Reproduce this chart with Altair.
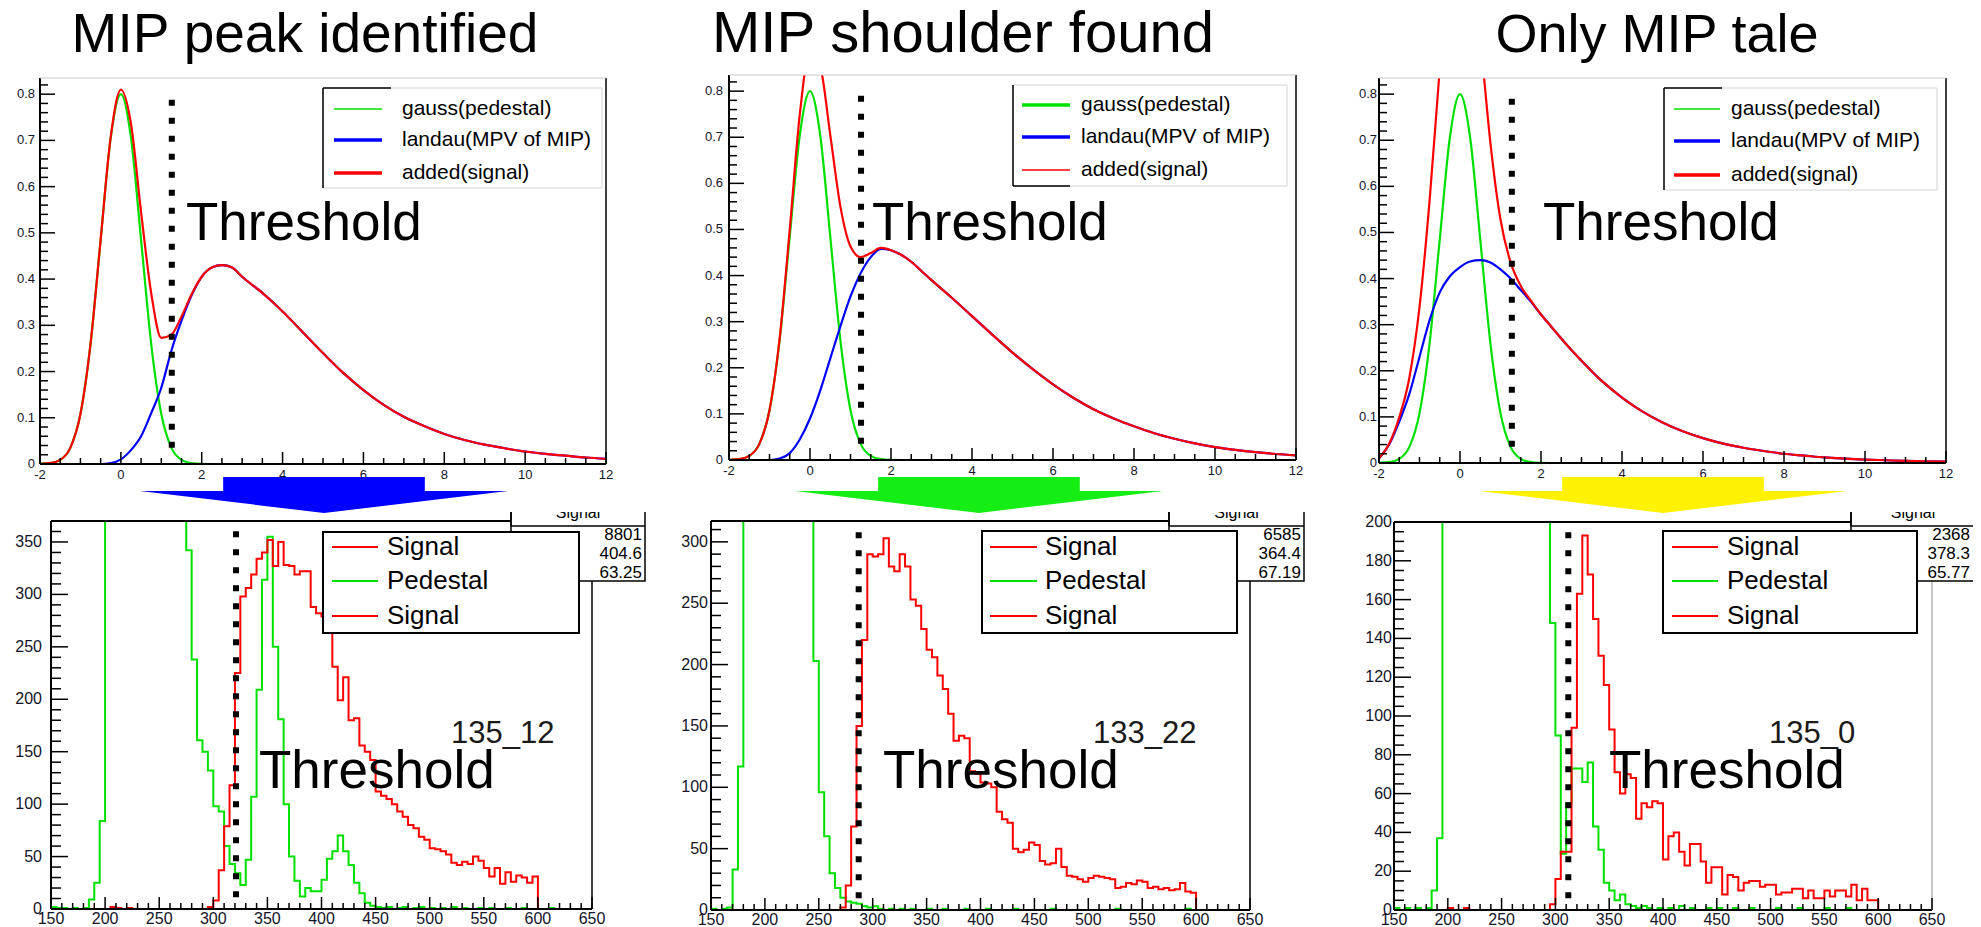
import altair as alt
import pandas as pd

# ------------------------------------------------------------------ values
TITLES = ["MIP peak identified", "MIP shoulder found", "Only MIP tale"]
FUNC_NAMES = ["gauss(pedestal)", "landau(MPV of MIP)", "added(signal)"]
HIST_NAMES = ["Signal", "Pedestal", "Signal"]
RUN_IDS = ["135_12", "133_22", "135_0"]
STAT_TITLE = "Signal"
STAT_VALUES = [["8801", "404.6", "63.25"],
               ["6585", "364.4", "67.19"],
               ["2368", "378.3", "65.77"]]
THRESHOLD_TEXT = "Threshold"
THR_TOP = [1.26, 1.26, 1.28]
THR_BOTTOM = [321, 287, 312]

# top row: fitted functions
FX = [-2, -1.75, -1.5, -1.25, -1, -0.75, -0.5, -0.25,
      0, 0.25, 0.5, 0.75, 1, 1.25, 1.5, 1.75,
      2, 2.25, 2.5, 2.75, 3, 3.5, 4, 4.5, 5, 5.5, 6, 6.5,
      7, 7.5, 8, 8.5, 9, 9.5, 10, 10.5, 11, 11.5, 12]
GAUSS = [0.0003, 0.0017, 0.0089, 0.035, 0.108, 0.26, 0.485, 0.706,
         0.8, 0.706, 0.485, 0.26, 0.108, 0.035, 0.0089, 0.0017,
         0.0003, 0, 0, 0, 0, 0, 0, 0, 0, 0, 0, 0,
         0, 0, 0, 0, 0, 0, 0, 0, 0, 0, 0]
LANDAU_A = [0, 0, 0, 0, 0, 0, 0, 0.002,
            0.01, 0.03, 0.06, 0.11, 0.165, 0.245, 0.31, 0.365,
            0.405, 0.425, 0.43, 0.425, 0.405, 0.37, 0.33, 0.285, 0.24, 0.197, 0.16, 0.128,
            0.102, 0.082, 0.065, 0.052, 0.042, 0.034, 0.027, 0.022, 0.018, 0.014, 0.011]
ADDED_A = [0.0003, 0.0017, 0.0089, 0.035, 0.108, 0.26, 0.485, 0.708,
           0.81, 0.736, 0.545, 0.37, 0.273, 0.28, 0.319, 0.367,
           0.405, 0.425, 0.43, 0.425, 0.405, 0.37, 0.33, 0.285, 0.24, 0.197, 0.16, 0.128,
           0.102, 0.082, 0.065, 0.052, 0.042, 0.034, 0.027, 0.022, 0.018, 0.014, 0.011]
LANDAU_B = [0, 0, 0, 0, 0, 0.003, 0.015, 0.045,
            0.09, 0.15, 0.22, 0.29, 0.355, 0.405, 0.44, 0.458,
            0.455, 0.445, 0.43, 0.41, 0.39, 0.352, 0.312, 0.272, 0.233, 0.197, 0.164, 0.135,
            0.11, 0.09, 0.073, 0.058, 0.046, 0.036, 0.028, 0.022, 0.017, 0.013, 0.01]
ADDED_B = [0.0003, 0.0017, 0.0089, 0.035, 0.108, 0.263, 0.5, 0.751,
           0.89, 0.856, 0.705, 0.55, 0.463, 0.44, 0.449, 0.46,
           0.455, 0.445, 0.43, 0.41, 0.39, 0.352, 0.312, 0.272, 0.233, 0.197, 0.164, 0.135,
           0.11, 0.09, 0.073, 0.058, 0.046, 0.036, 0.028, 0.022, 0.017, 0.013, 0.01]
LANDAU_C = [0.01, 0.04, 0.09, 0.15, 0.23, 0.31, 0.37, 0.405,
            0.425, 0.437, 0.44, 0.435, 0.42, 0.4, 0.375, 0.35,
            0.322, 0.296, 0.27, 0.245, 0.222, 0.178, 0.142, 0.112, 0.088, 0.069, 0.054, 0.042,
            0.033, 0.026, 0.02, 0.016, 0.012, 0.0095, 0.0075, 0.006, 0.0045, 0.0035, 0.003]
ADDED_C = [0.0103, 0.0417, 0.099, 0.185, 0.338, 0.57, 0.855, 1.111,
           1.225, 1.143, 0.925, 0.695, 0.528, 0.435, 0.384, 0.352,
           0.322, 0.296, 0.27, 0.245, 0.222, 0.178, 0.142, 0.112, 0.088, 0.069, 0.054, 0.042,
           0.033, 0.026, 0.02, 0.016, 0.012, 0.0095, 0.0075, 0.006, 0.0045, 0.0035, 0.003]

# bottom row: histograms, 5-wide bins from 150 to 650
EDGES = list(range(150, 655, 5))
SIG_A = [0, 0, 0, 0, 0, 0, 0, 0, 0, 0,
         0, 2, 1, 0, 1, 0, 0, 0, 0, 0,
         0, 0, 0, 0, 0, 0, 0, 0, 0, 2,
         8, 37, 79, 118, 225, 298, 306, 319, 334, 340,
         352, 327, 350, 328, 327, 319, 322, 322, 288, 282,
         279, 279, 231, 199, 221, 180, 182, 156, 150, 142,
         112, 108, 105, 100, 93, 88, 80, 77, 69, 66,
         58, 57, 55, 52, 44, 42, 45, 43, 50, 46,
         39, 31, 39, 24, 35, 26, 32, 30, 25, 31,
         0, 0, 0, 0, 0, 0, 0, 0, 0, 0]
PED_A = [2, 1, 1, 0, 1, 0, 1, 9, 25, 84,
         900, 1500, 2400, 3000, 3300, 3200, 2900, 2500, 2100, 1700,
         1400, 1100, 850, 650, 480, 342, 238, 161, 150, 132,
         98, 93, 60, 43, 34, 23, 47, 107, 209, 314,
         355, 250, 181, 100, 50, 27, 12, 20, 17, 17,
         28, 48, 55, 70, 55, 42, 25, 15, 6, 3,
         2, 1, 2, 0, 1, 2, 0, 1, 2, 0,
         1, 0, 1, 0, 2, 0, 1, 0, 0, 1,
         0, 1, 0, 0, 1, 0, 0, 1, 0, 0,
         0, 0, 1, 0, 0, 0, 0, 0, 0, 0]
SIG_B = [0, 0, 0, 0, 0, 0, 0, 0, 0, 0,
         0, 0, 0, 0, 0, 0, 0, 0, 0, 0,
         0, 0, 0, 0, 2, 20, 68, 150, 220, 290,
         288, 290, 303, 280, 276, 290, 280, 253, 248, 229,
         212, 206, 191, 180, 160, 138, 142, 140, 113, 111,
         104, 103, 100, 80, 74, 71, 50, 47, 49, 55,
         53, 40, 37, 38, 50, 35, 28, 27, 25, 23,
         26, 28, 27, 26, 25, 18, 19, 22, 21, 24,
         23, 18, 19, 17, 18, 16, 17, 22, 15, 14,
         0, 0, 0, 0, 0, 0, 0, 0, 0, 0]
PED_B = [1, 0, 1, 2, 33, 117, 800, 1600, 2600, 3200,
         3400, 3200, 2800, 2300, 1800, 1300, 900, 600, 380, 203,
         96, 60, 30, 18, 10, 7, 6, 5, 3, 2,
         3, 1, 0, 1, 0, 1, 0, 1, 0, 0,
         1, 0, 0, 1, 0, 0, 0, 1, 0, 0,
         0, 1, 0, 0, 0, 0, 1, 0, 0, 0,
         0, 0, 0, 1, 0, 0, 0, 0, 0, 0,
         0, 0, 0, 0, 0, 1, 0, 0, 0, 0,
         0, 0, 0, 0, 0, 0, 0, 0, 1, 0,
         0, 0, 0, 0, 0, 0, 0, 0, 0, 0]
SIG_C = [0, 0, 0, 0, 0, 0, 0, 0, 0, 0,
         1, 0, 0, 1, 0, 0, 0, 0, 0, 0,
         0, 0, 0, 0, 0, 0, 0, 0, 0, 3,
         16, 30, 30, 94, 163, 193, 173, 150, 131, 116,
         93, 71, 60, 70, 68, 47, 55, 53, 56, 55,
         26, 38, 40, 30, 23, 34, 34, 25, 14, 22,
         22, 8, 18, 17, 10, 14, 15, 15, 12, 13,
         13, 8, 9, 9, 11, 11, 6, 10, 6, 6,
         10, 7, 10, 10, 7, 13, 5, 11, 5, 5,
         0, 0, 0, 0, 0, 0, 0, 0, 0, 0]
PED_C = [1, 0, 1, 0, 1, 0, 1, 10, 37, 600,
         1400, 2200, 2800, 3000, 2900, 2600, 2200, 1800, 1400, 1100,
         850, 650, 500, 400, 330, 280, 250, 230, 215, 148,
         90, 29, 55, 73, 73, 66, 76, 43, 31, 14,
         10, 5, 8, 3, 2, 1, 2, 1, 0, 1,
         0, 1, 0, 2, 0, 1, 0, 0, 1, 0,
         1, 0, 0, 1, 0, 0, 1, 0, 0, 0,
         0, 1, 0, 0, 0, 1, 0, 0, 0, 0,
         1, 0, 0, 0, 1, 0, 0, 0, 0, 0,
         0, 0, 0, 0, 0, 0, 0, 0, 0, 0]

# axis ticks and labels
TOP_XTICKS = [-2, 0, 2, 4, 6, 8, 10, 12]
TOP_XLABELS = ["-2", "0", "2", "4", "6", "8", "10", "12"]
TOP_YTICKS = [0, 0.1, 0.2, 0.3, 0.4, 0.5, 0.6, 0.7, 0.8]
TOP_YLABELS = ["0", "0.1", "0.2", "0.3", "0.4", "0.5", "0.6", "0.7", "0.8"]
BOT_XTICKS = [150, 200, 250, 300, 350, 400, 450, 500, 550, 600, 650]
BOT_XLABELS = ["150", "200", "250", "300", "350", "400", "450", "500", "550", "600", "650"]
BOT_YTICKS_A = [0, 50, 100, 150, 200, 250, 300, 350]
BOT_YTICKS_B = [0, 50, 100, 150, 200, 250, 300]
BOT_YTICKS_C = [0, 20, 40, 60, 80, 100, 120, 140, 160, 180, 200]

for arr in (GAUSS, LANDAU_A, ADDED_A, LANDAU_B, ADDED_B, LANDAU_C, ADDED_C):
    assert len(arr) == len(FX), len(arr)
for arr in (SIG_A, PED_A, SIG_B, PED_B, SIG_C, PED_C):
    assert len(arr) == len(EDGES) - 1, len(arr)

# ------------------------------------------------------------------ styling / layout
FONT = "Liberation Sans, Arial, Helvetica, sans-serif"
NARROW = "Liberation Sans Narrow, Liberation Sans, Arial, sans-serif"
LABC = "#14142a"
RED, GREEN, BLUE = "#ff0000", "#00e000", "#0000ff"
ARROW_COLORS = ["#0000ff", "#14ee14", "#fff200"]
ARROW_PATH = ("M -1 -0.022 L -0.548 -0.022 L -0.548 -0.098 L 0.548 -0.098 "
              "L 0.548 -0.022 L 1 -0.022 L 0 0.098 Z")
TITLE_SIZES = [55, 58, 54]
M = 8


def P(v):
    return v - M


def vline(x, ya, yb, color="black", w=2.0):
    return alt.Chart().mark_rule(color=color, strokeWidth=w, strokeCap="butt").encode(
        x=alt.value(P(x)), y=alt.value(P(ya)), y2=alt.value(P(yb)))


def hline(y, xa, xb, color="black", w=2.0):
    return alt.Chart().mark_rule(color=color, strokeWidth=w, strokeCap="butt").encode(
        x=alt.value(P(xa)), x2=alt.value(P(xb)), y=alt.value(P(y)))


def box(xa, xb, ya, yb, fill="white", stroke=None, w=0):
    props = dict(fill=fill, strokeWidth=w)
    if stroke is not None:
        props["stroke"] = stroke
    return alt.Chart().mark_rect(**props).encode(
        x=alt.value(P(xa)), x2=alt.value(P(xb)), y=alt.value(P(ya)), y2=alt.value(P(yb)))


def label(x, y, s, size, align="left", baseline="middle", font=FONT, color="black"):
    return alt.Chart().mark_text(text=s, align=align, baseline=baseline, font=font,
                                 fontSize=size, color=color).encode(
        x=alt.value(P(x)), y=alt.value(P(y)))


def xticks(vals, sx, y0, length, w=1.5):
    return alt.Chart(pd.DataFrame({"v": vals})).mark_rule(color="black", strokeWidth=w).encode(
        x=alt.X("v:Q", scale=sx, axis=None), y=alt.value(P(y0)), y2=alt.value(P(y0 - length)))


def yticks(vals, sy, x0, length, w=1.5):
    return alt.Chart(pd.DataFrame({"v": vals})).mark_rule(color="black", strokeWidth=w).encode(
        y=alt.Y("v:Q", scale=sy, axis=None), x=alt.value(P(x0)), x2=alt.value(P(x0 + length)))


def xlabels(vals, labs, sx, y, size, font):
    return alt.Chart(pd.DataFrame({"v": vals, "t": labs})).mark_text(
        align="center", baseline="middle", fontSize=size, font=font, color=LABC).encode(
        x=alt.X("v:Q", scale=sx, axis=None), y=alt.value(P(y)), text="t:N")


def ylabels(vals, labs, sy, x, size, font):
    return alt.Chart(pd.DataFrame({"v": vals, "t": labs})).mark_text(
        align="right", baseline="middle", fontSize=size, font=font, color=LABC).encode(
        y=alt.Y("v:Q", scale=sy, axis=None), x=alt.value(P(x)), text="t:N")


TOP = [
    dict(x0=40, x1=606, y0=464, y1=78, ydx=5, leg=(323, 602, 88, 188), samp=(334, 382), tx=402,
         rows=(109, 140, 173), thr=(186, 240), w=(1.5, 3.5, 3.5), dark=("top", 323, 391)),
    dict(x0=729, x1=1296, y0=460, y1=75, ydx=6, leg=(1013, 1287, 85, 186), samp=(1022, 1070), tx=1081,
         rows=(105, 137, 170), thr=(872, 240), w=(3.5, 3.5, 1.5), dark=("bottom", 1013, 1070)),
    dict(x0=1379, x1=1946, y0=463, y1=78, ydx=2, leg=(1664, 1937, 88, 190), samp=(1674, 1720), tx=1731,
         rows=(109, 141, 175), thr=(1543, 240), w=(1.5, 3.5, 3.5), dark=("top", 1664, 1722)),
]
TOP_YMAX = 0.835
LANDAUS = [LANDAU_A, LANDAU_B, LANDAU_C]
ADDEDS = [ADDED_A, ADDED_B, ADDED_C]
TOP_XMINOR = [v / 2 for v in range(-4, 25) if v % 4 != 0]
TOP_YMINOR = [round(0.02 * k, 2) for k in range(0, 42) if k % 5 != 0]

BOT = [
    dict(x0=51, x1=592, y0=909, y1=521, ymax=370, ymaj=BOT_YTICKS_A,
         ymin=[v for v in range(0, 371, 10) if v % 50], ydx=9, stat=(511, 645), vx=642,
         leg=(323, 579, 532, 633), samp=(332, 378), tx=387, idx=451, thx=259, rcol="black"),
    dict(x0=711, x1=1250, y0=910, y1=521, ymax=317, ymaj=BOT_YTICKS_B,
         ymin=[v for v in range(0, 318, 10) if v % 50], ydx=3, stat=(1169, 1304), vx=1301,
         leg=(982, 1237, 531, 633), samp=(990, 1037), tx=1045, idx=1093, thx=883, rcol="black"),
    dict(x0=1394, x1=1932, y0=910, y1=522, ymax=200, ymaj=BOT_YTICKS_C,
         ymin=[v for v in range(0, 201, 5) if v % 20], ydx=2, stat=(1851, 1995), vx=1970,
         leg=(1663, 1917, 531, 633), samp=(1672, 1718), tx=1727, idx=1769, thx=1609, rcol="#b4b4b4"),
]
SIGS = [SIG_A, SIG_B, SIG_C]
PEDS = [PED_A, PED_B, PED_C]
BOT_XMINOR = [v for v in range(150, 651, 10) if v % 50]
LEG_ROWS = (547, 581, 616)
STAT_ROWS = (535, 554, 573)

layers = []

# ------------------------------------------------------------------ top row
for i, t in enumerate(TOP):
    sx = alt.Scale(domain=[-2, 12], range=[P(t["x0"]), P(t["x1"])], nice=False, zero=False)
    sy = alt.Scale(domain=[0, TOP_YMAX], range=[P(t["y0"]), P(t["y1"])], nice=False, zero=False)
    for ys, col in ((GAUSS, GREEN), (LANDAUS[i], BLUE), (ADDEDS[i], RED)):
        df = pd.DataFrame({"x": FX, "y": ys})
        layers.append(alt.Chart(df).mark_line(color=col, strokeWidth=2.2, interpolate="monotone").encode(
            x=alt.X("x:Q", scale=sx, axis=None), y=alt.Y("y:Q", scale=sy, axis=None)))
    # hide what leaves the frame at the top
    layers.append(box(t["x0"] - 3, t["x1"] + 3, -30, t["y1"]))
    layers += [vline(t["x0"], t["y1"], t["y0"]), hline(t["y0"], t["x0"], t["x1"]),
               vline(t["x1"], t["y1"], t["y0"], w=1.5),
               hline(t["y1"], t["x0"], t["x1"], color="#c8c8c8", w=1)]
    layers += [xticks(TOP_XTICKS, sx, t["y0"], 12), xticks(TOP_XMINOR, sx, t["y0"], 6),
               yticks(TOP_YTICKS, sy, t["x0"], 15), yticks(TOP_YMINOR, sy, t["x0"], 8)]
    layers.append(xlabels(TOP_XTICKS, TOP_XLABELS, sx, t["y0"] + 11, 13, FONT))
    layers.append(ylabels(TOP_YTICKS, TOP_YLABELS, sy, t["x0"] - t["ydx"], 13, FONT))
    dfthr = pd.DataFrame({"x": [THR_TOP[i]], "a": [0.035], "b": [0.81]})
    layers.append(alt.Chart(dfthr).mark_rule(color="black", strokeWidth=6, strokeDash=[6, 12],
                                             strokeCap="butt").encode(
        x=alt.X("x:Q", scale=sx, axis=None), y=alt.Y("a:Q", scale=sy, axis=None), y2="b:Q"))
    lx0, lx1, ly0, ly1 = t["leg"]
    layers.append(box(lx0, lx1, ly0, ly1, fill="white", stroke="#d4d4d4", w=1))
    layers.append(vline(lx0, ly0, ly1, w=1.5))
    side, da, db = t["dark"]
    layers.append(hline(ly0 if side == "top" else ly1, da, db, w=1.5))
    for k, col in enumerate((GREEN, BLUE, RED)):
        layers.append(hline(t["rows"][k], t["samp"][0], t["samp"][1], color=col, w=t["w"][k]))
        layers.append(label(t["tx"], t["rows"][k], FUNC_NAMES[k], 21))
    layers.append(label(t["thr"][0], t["thr"][1], THRESHOLD_TEXT, 53, baseline="alphabetic"))

# ------------------------------------------------------------------ bottom row
for i, b in enumerate(BOT):
    sx = alt.Scale(domain=[150, 650], range=[P(b["x0"]), P(b["x1"])], nice=False, zero=False)
    sy = alt.Scale(domain=[0, b["ymax"]], range=[P(b["y0"]), P(b["y1"])], nice=False, zero=False,
                   clamp=True)
    for vals, col in ((PEDS[i], GREEN), (SIGS[i], RED)):
        df = pd.DataFrame({"x": EDGES, "y": vals + [vals[-1]]})
        layers.append(alt.Chart(df).mark_line(color=col, strokeWidth=2, interpolate="step-after").encode(
            x=alt.X("x:Q", scale=sx, axis=None), y=alt.Y("y:Q", scale=sy, axis=None)))
    s0, s1 = b["stat"]
    layers += [hline(b["y1"], b["x0"], s0), vline(b["x0"], b["y1"], b["y0"]),
               hline(b["y0"], b["x0"], b["x1"]), vline(b["x1"], 581, b["y0"], color=b["rcol"], w=1.5)]
    layers += [xticks(BOT_XTICKS, sx, b["y0"], 12), xticks(BOT_XMINOR, sx, b["y0"], 6),
               yticks(b["ymaj"], sy, b["x0"], 17), yticks(b["ymin"], sy, b["x0"], 10)]
    layers.append(xlabels(BOT_XTICKS, BOT_XLABELS, sx, b["y0"] + 10, 16, NARROW))
    layers.append(ylabels(b["ymaj"], [str(v) for v in b["ymaj"]], sy, b["x0"] - b["ydx"], 16, NARROW))
    dfthr = pd.DataFrame({"x": [THR_BOTTOM[i]], "a": [0.03 * b["ymax"]], "b": [b["ymax"]]})
    layers.append(alt.Chart(dfthr).mark_rule(color="black", strokeWidth=6, strokeDash=[6, 12],
                                             strokeCap="butt").encode(
        x=alt.X("x:Q", scale=sx, axis=None), y=alt.Y("a:Q", scale=sy, axis=None), y2="b:Q"))
    # statistics box (its top is cut away in the original)
    layers.append(box(s0, s1, 500, 581, fill="white", stroke="black", w=1.5))
    layers.append(hline(526, s0, s1, w=1.5))
    layers.append(label((s0 + min(s1, 1975)) / 2, 513, STAT_TITLE, 16, align="center", font=NARROW))
    layers.append(box(s0 - 4, s1 + 4, 490, 512))
    layers.append(vline(s0, 512, 526, w=1.5))
    for k in range(3):
        layers.append(label(b["vx"], STAT_ROWS[k], STAT_VALUES[i][k], 17, align="right", font=NARROW))
    lx0, lx1, ly0, ly1 = b["leg"]
    layers.append(box(lx0, lx1, ly0, ly1, fill="white", stroke="black", w=2))
    for k, col in enumerate((RED, GREEN, RED)):
        layers.append(hline(LEG_ROWS[k], b["samp"][0], b["samp"][1], color=col, w=2))
        layers.append(label(b["tx"], LEG_ROWS[k], HIST_NAMES[k], 26))
    layers.append(label(b["idx"], 743, RUN_IDS[i], 31, baseline="alphabetic", color="#1a1a1a"))
    layers.append(label(b["thx"], 788, THRESHOLD_TEXT, 53, baseline="alphabetic"))

# ------------------------------------------------------------------ arrows and titles
for cx, col in zip((324, 979, 1663), ARROW_COLORS):
    layers.append(alt.Chart().mark_point(shape=ARROW_PATH, size=368 * 368, filled=True, color=col,
                                         opacity=1, strokeWidth=0).encode(
        x=alt.value(P(cx)), y=alt.value(P(495))))
for cx, title, fs in zip((305, 963, 1657), TITLES, TITLE_SIZES):
    layers.append(label(cx, 52, title, fs, align="center", baseline="alphabetic"))

chart = alt.layer(*layers, data=pd.DataFrame({"k": [0]})).resolve_scale(
    x="independent", y="independent"
).properties(
    width=1965, height=919, padding=0, autosize=alt.AutoSizeParams(type="none")
).configure_view(stroke=None)

chart.save("out.html", embed_options={"renderer": "svg", "actions": False})
